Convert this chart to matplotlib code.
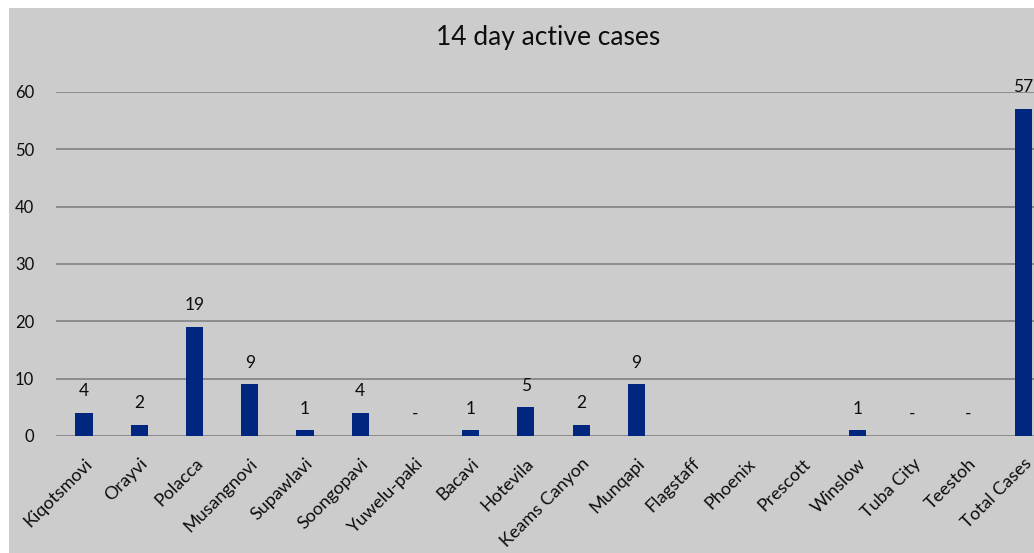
import numpy as np
import matplotlib.pyplot as plt
from matplotlib.patches import Rectangle

plt.rcParams['font.family'] = ['Lato', 'DejaVu Sans']

places = ['Kiqotsmovi', 'Orayvi', 'Polacca', 'Musangnovi', 'Supawlavi', 'Soongopavi',
          'Yuwelu-paki', 'Bacavi', 'Hotevila', 'Keams Canyon', 'Munqapi', 'Flagstaff',
          'Phoenix', 'Prescott', 'Winslow', 'Tuba City', 'Teestoh', 'Total Cases']
cases = [4, 2, 19, 9, 1, 4, 0, 1, 5, 2, 9, np.nan, np.nan, np.nan, 1, 0, 0, 57]
yticks = [0, 10, 20, 30, 40, 50, 60]

bg = '#cccccc'
bar_color = '#00267f'
txt = '#0d0d0d'

fig = plt.figure(figsize=(10.34, 5.53), dpi=100, facecolor='white')
fig.patches.append(Rectangle((9 / 1034, 0), 1, 545 / 553, transform=fig.transFigure,
                             facecolor=bg, edgecolor='none', zorder=-1))

ax = fig.add_axes([56.4 / 1034, 117 / 553, 994.3 / 1034, 344 / 553])
ax.set_facecolor('none')

x = np.arange(len(places))
vals = np.nan_to_num(cases)
ax.bar(x, vals, width=0.31, color=bar_color, zorder=3)

for i, v in enumerate(cases):
    if np.isnan(v):
        continue
    lbl = '-' if v == 0 else str(int(v))
    ax.text(i, v + 2.4, lbl, ha='center', va='bottom', fontsize=12.5, color=txt)

ax.set_xlim(-0.5, len(places) - 0.5)
ax.set_ylim(0, 60)
ax.set_yticks(yticks)
ax.set_yticklabels([str(t) for t in yticks], fontsize=12, color=txt)
ax.yaxis.grid(True, color='#8c8c8c', linewidth=1.4, zorder=0)
ax.set_axisbelow(True)
ax.tick_params(axis='y', length=0, pad=16)
ax.tick_params(axis='x', length=0, pad=14)
ax.set_xticks(x)
ax.set_xticklabels(places, rotation=45, ha='right', rotation_mode='anchor',
                   fontsize=13, color=txt)
for s in ax.spines.values():
    s.set_visible(False)

fig.text(548 / 1034, 1 - 38 / 553, '14 day active cases', ha='center', va='center',
         fontsize=19, color=txt)

fig.savefig('out.png', dpi=100, facecolor='white')
